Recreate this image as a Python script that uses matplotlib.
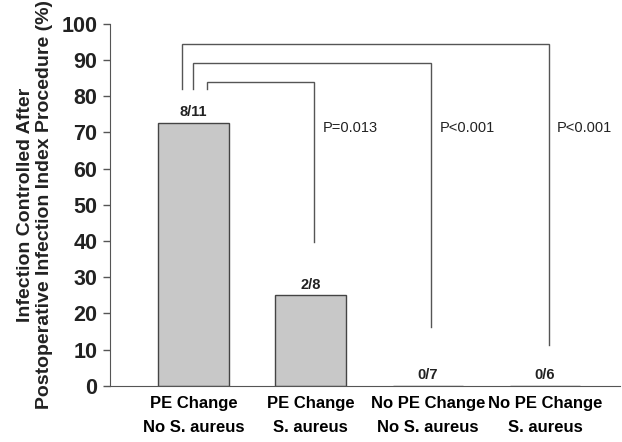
import matplotlib
matplotlib.use("Agg")
import matplotlib.pyplot as plt

plt.rcParams["font.family"] = ["Liberation Sans", "DejaVu Sans"]

categories = ["PE Change\nNo S. aureus", "PE Change\nS. aureus",
              "No PE Change\nNo S. aureus", "No PE Change\nS. aureus"]
values = [72.7, 25.0, 0.0, 0.0]
fractions = ["8/11", "2/8", "0/7", "0/6"]

# comparisons: (left leg x offset, target bar, top, left leg bottom, right leg bottom, label)
brackets = [
    (0.12, 1, 84.0, 82.0, 39.8, "P=0.013"),
    (0.0, 2, 89.2, 82.0, 16.3, "P<0.001"),
    (-0.10, 3, 94.5, 82.0, 11.3, "P<0.001"),
]
p_label_y = 71.3

line_col = "#555555"

fig = plt.figure(figsize=(6.22, 4.42), dpi=100)
ax = fig.add_axes([0.177, 0.127, 0.82, 0.819])

x = list(range(len(categories)))
ax.bar(x, values, width=0.6, color="#c8c8c8", edgecolor="#444444", linewidth=1.0)

for xi, v, f in zip(x, values, fractions):
    ax.text(xi, v + 1.0, f, ha="center", va="bottom", fontsize=10.5,
            fontweight="bold", color="#222222")

for dx, tgt, top, lb, rb, lab in brackets:
    xl = 0 + dx
    xr = tgt + 0.03
    ax.plot([xl, xl, xr, xr], [lb, top, top, rb], color=line_col, lw=1.0,
            solid_joinstyle="miter")
    ax.text(xr + 0.07, p_label_y, lab, ha="left", va="center", fontsize=10.5,
            color="#222222")

ax.set_xlim(-0.71, 3.64)
ax.set_ylim(0, 100)
ax.set_yticks(range(0, 101, 10))
ax.set_xticks(x)
ax.set_xticklabels(categories, fontsize=12, fontweight="bold", linespacing=1.75)
ax.tick_params(axis="x", length=0, pad=7)
ax.tick_params(axis="y", labelsize=15.5, length=5, width=1.0, colors="#555555",
               labelcolor="#222222", pad=4)
for lbl in ax.get_yticklabels():
    lbl.set_fontweight("bold")

ax.spines["top"].set_visible(False)
ax.spines["right"].set_visible(False)
ax.spines["left"].set_color("#555555")
ax.spines["bottom"].set_color("#555555")

ax.set_ylabel("Infection Controlled After\nPostoperative Infection Index Procedure (%)",
              fontsize=14, fontweight="bold", color="#222222", labelpad=6,
              linespacing=1.2)

fig.savefig("out.png", dpi=100)
